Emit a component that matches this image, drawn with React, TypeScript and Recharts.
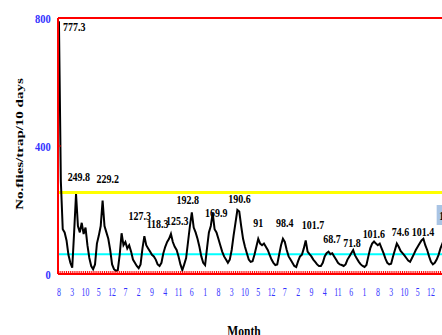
import { LineChart, Line, XAxis, YAxis, ReferenceLine, Label } from "recharts";

// monthly trap catches, starting August of the first year
const flies1 = [790, 290, 140, 130, 105, 60, 35, 20, 130, 249.8, 150, 130, 160, 125, 145, 90, 50, 25, 15, 30, 95, 120, 150, 229.2, 150, 130, 110, 75, 30, 15];
const flies2 = [10, 12, 60, 127.3, 90, 100, 80, 90, 70, 45, 35, 25, 18, 30, 80, 118.3, 90, 80, 70, 60, 55, 45, 30, 25, 35, 65, 85, 100, 110, 125.3];
const flies3 = [100, 85, 75, 55, 30, 12, 30, 50, 100, 150, 192.8, 145, 130, 110, 85, 55, 35, 28, 80, 130, 150, 190, 140, 130, 110, 90, 70, 55, 45, 35];
const flies4 = [45, 75, 120, 160, 200, 195, 150, 110, 85, 65, 45, 38, 40, 60, 85, 110, 95, 90, 95, 85, 75, 60, 45, 35, 28, 30, 60, 90, 110, 100];
const flies5 = [75, 55, 45, 35, 25, 22, 40, 55, 60, 80, 105, 70, 62, 55, 45, 38, 30, 25, 25, 35, 55, 65, 70, 62, 65, 55, 45, 35, 30, 28];
const flies6 = [25, 30, 45, 55, 65, 75, 58, 48, 38, 30, 25, 22, 28, 55, 80, 95, 101.6, 95, 90, 95, 80, 65, 48, 35, 30, 32, 55, 75, 95, 85];
const flies7 = [72, 65, 58, 50, 42, 38, 50, 62, 75, 85, 95, 105, 110, 90, 75, 55, 38, 30, 35, 45, 60, 80, 95, 110, 120];

const flies = [...flies1, ...flies2, ...flies3, ...flies4, ...flies5, ...flies6, ...flies7];

// month labels shown every 7 months
const tickLabels = [8, 3, 10, 5, 12, 7, 2, 9, 4, 11, 6, 1, 8, 3, 10, 5, 12, 7, 2, 9, 4, 11, 6, 1, 8, 3, 10, 5, 12];

const peakMonths = [0, 9, 23, 33, 45, 59, 70, 81, 94, 105, 118, 130, 142, 155, 166, 178, 192, 204];
const peakLabels = ["777.3", "249.8", "229.2", "127.3", "118.3", "125.3", "192.8", "169.9", "190.6", "91", "98.4", "101.7", "68.7", "71.8", "101.6", "74.6", "101.4", "120"];

const upperLimit = 255;
const meanLevel = 62;

// where each peak label sits relative to its point (px)
const labelOffsets: [number, number][] = [
  [4, 9.8], [-8.4, -13.4], [-6, -17.7], [7, -13.3], [2.3, -7.8], [-5, -8.9],
  [-15.2, -8.3], [-7.7, 3.5], [-9.1, -7.3], [-5, -11.8], [-7, -12.1], [-4, -11.1],
  [-5.2, -8.3], [-9.9, -2.7], [-11.4, -3.2], [-5.1, -7.6], [-11.7, -2.8], [-7, -15.6],
];

const BLUE = "#3333ff";
const RED = "#ff0000";
const FONT = '"Liberation Serif", "Times New Roman", serif';

const data = flies.map((v, m) => ({ m, v }));
const monthTicks = Array.from({ length: 211 }, (_, i) => i);

function MonthTick({ x, y, payload }: any) {
  const m = payload.value;
  const label = m % 7 === 0 ? tickLabels[m / 7] : undefined;
  if (label === undefined) return <g />;
  return (
    <text
      transform={`translate(${x},${y + 25}) scale(0.68,1)`}
      textAnchor="middle"
      fill={BLUE}
      fontSize={11.5}
      fontFamily={FONT}
    >
      {label}
    </text>
  );
}

function FlyTick({ x, y, payload }: any) {
  return (
    <text
      transform={`translate(${x - 10.3},${y + 4.7}) scale(0.82,1)`}
      textAnchor="end"
      fill={BLUE}
      fontSize={12.8}
      fontWeight="bold"
      fontFamily={FONT}
    >
      {payload.value}
    </text>
  );
}

function PeakDot({ cx, cy, index }: any) {
  const k = peakMonths.indexOf(index);
  if (k < 0 || cx == null) return <g />;
  const [dx, dy] = labelOffsets[k];
  const last = k === peakMonths.length - 1;
  return (
    <g>
      {last && <rect x={cx + dx - 2.5} y={cy + dy - 15} width={30} height={20} fill="#a9c4e4" />}
      <text
        transform={`translate(${cx + dx},${cy + dy}) scale(0.74,1)`}
        fill="#000"
        fontSize={13.5}
        fontWeight="bold"
        fontFamily={FONT}
      >
        {peakLabels[k]}
      </text>
    </g>
  );
}

const MonthTitle = () => (
  <text
    transform="translate(244,335.5) scale(0.77,1)"
    textAnchor="middle"
    fontSize={15}
    fontWeight="bold"
    fontFamily={FONT}
    fill="#000"
  >
    Month
  </text>
);

const YTitle = () => (
  <text
    transform="translate(22.6,144) rotate(-90) scale(1,0.72)"
    textAnchor="middle"
    fontSize={15}
    fontWeight="bold"
    fontFamily={FONT}
    fill="#000"
  >
    No.flies/trap/10 days
  </text>
);

export default function App() {
  return (
    <div
      style={{
        position: "absolute",
        left: 0,
        top: 0,
        width: 442,
        height: 335,
        overflow: "hidden",
        background: "#fff",
      }}
    >
      <LineChart width={470} height={335} data={data} margin={{ top: 18, right: 11.5, bottom: 0, left: 0 }}>
        <XAxis
          type="number"
          dataKey="m"
          domain={[-0.5, 210.5]}
          ticks={monthTicks}
          interval={0}
          height={61}
          allowDataOverflow
          axisLine={{ stroke: RED, strokeWidth: 2 }}
          tickLine={{ stroke: RED, strokeWidth: 1 }}
          tickSize={-3}
          tickMargin={0}
          tick={(p: any) => <MonthTick {...p} />}
        >
          <Label content={MonthTitle} />
        </XAxis>
        <YAxis
          type="number"
          domain={[0, 800]}
          ticks={[0, 400, 800]}
          interval={0}
          width={58}
          axisLine={{ stroke: RED, strokeWidth: 2 }}
          tickLine={{ stroke: RED, strokeWidth: 1 }}
          tickSize={-3}
          tickMargin={0}
          tick={(p: any) => <FlyTick {...p} />}
        >
          <Label content={YTitle} />
        </YAxis>
        <ReferenceLine y={800} stroke={RED} strokeWidth={2} />
        <ReferenceLine y={upperLimit} stroke="#ffff00" strokeWidth={3} />
        <ReferenceLine y={meanLevel} stroke="#00ffff" strokeWidth={2} />
        <Line
          dataKey="v"
          stroke="#000"
          strokeWidth={2}
          dot={(p: any) => <PeakDot key={`pk-${p.index}`} cx={p.cx} cy={p.cy} index={p.index} />}
          activeDot={false}
          isAnimationActive={false}
        />
      </LineChart>
    </div>
  );
}
